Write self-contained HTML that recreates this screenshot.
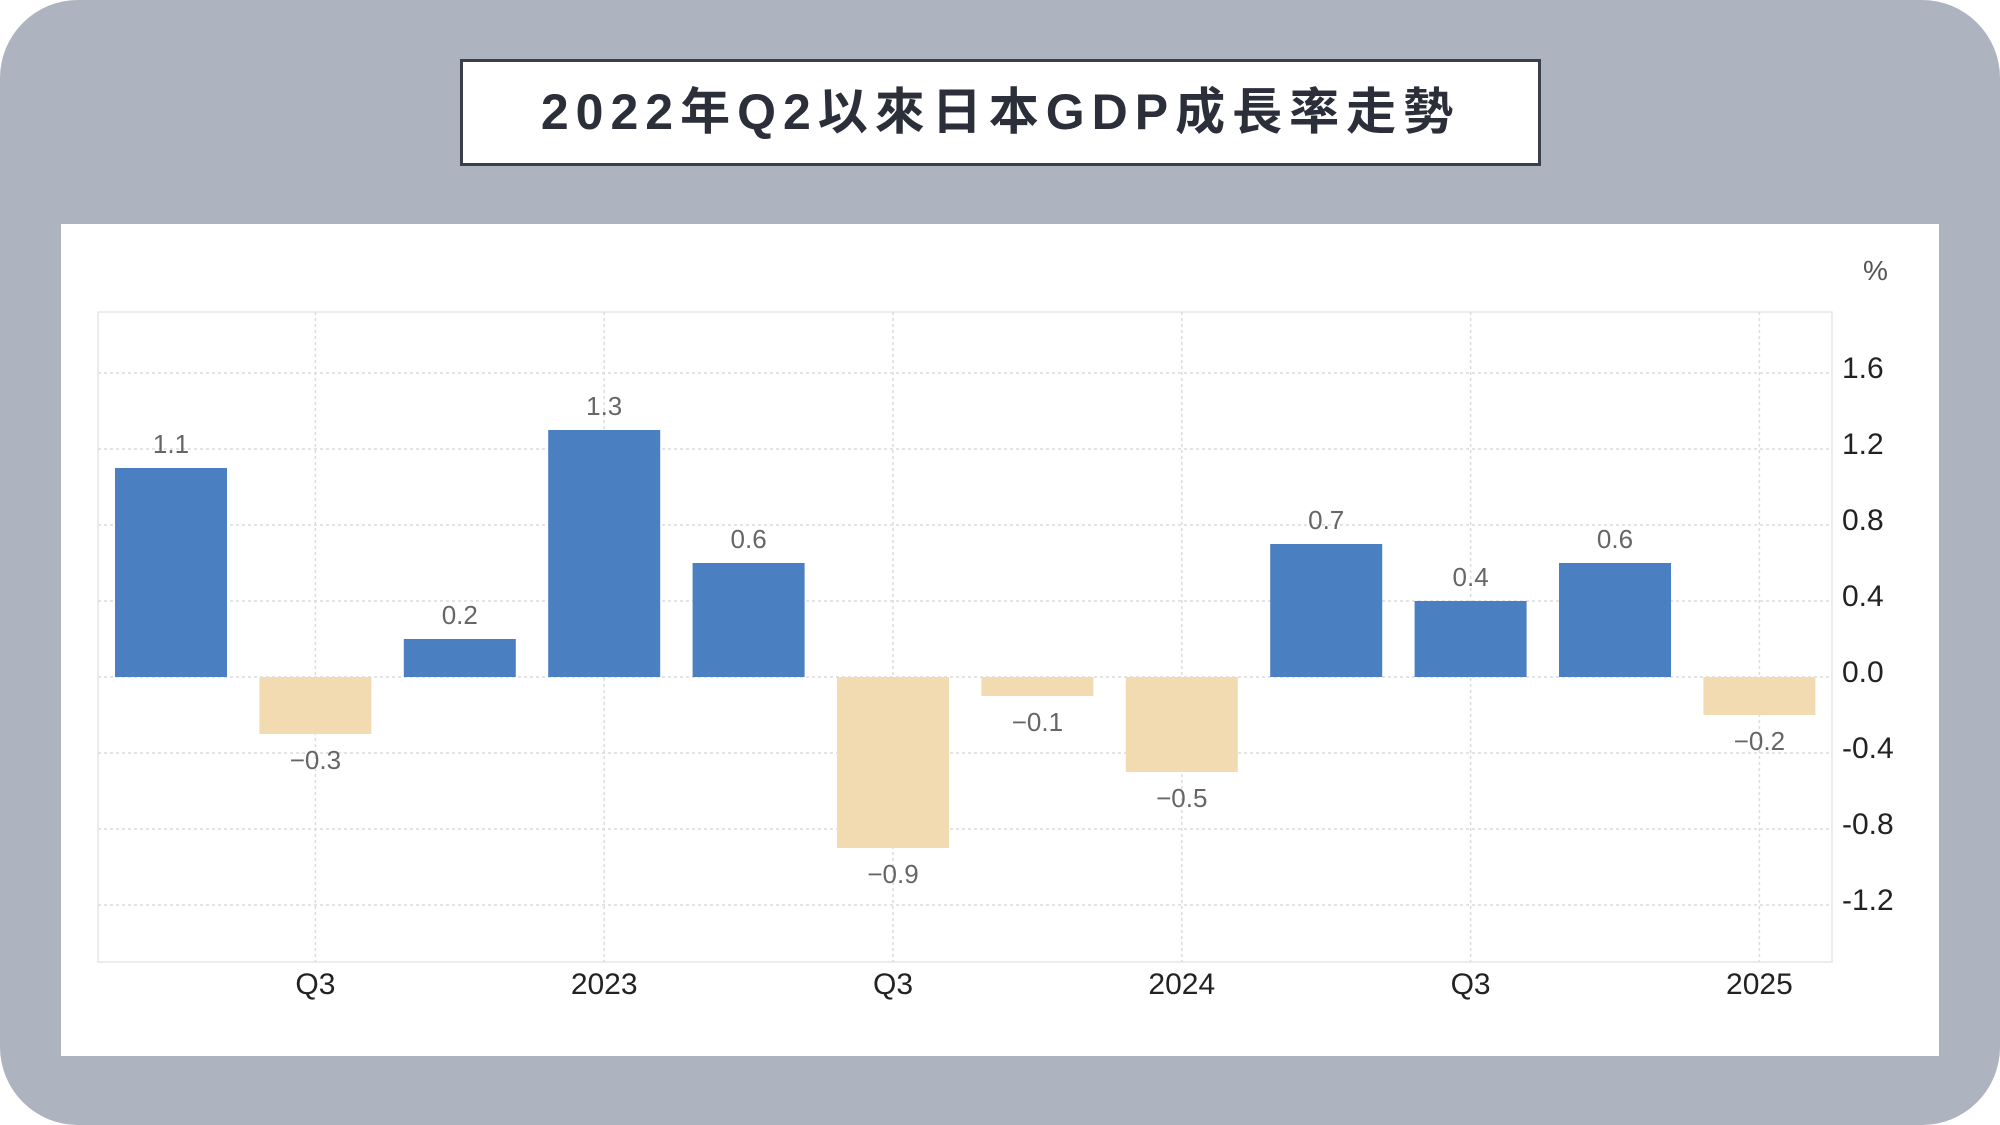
<!DOCTYPE html>
<html><head><meta charset="utf-8">
<style>
html,body{margin:0;padding:0;background:#fff;}
#bg{position:absolute;left:0;top:0;width:2000px;height:1125px;background:#adb3bf;border-radius:78px;}
#title{position:absolute;left:460px;top:59px;width:1075px;height:101px;border:3px solid #3a3f4b;background:#fff;box-sizing:content-box;text-align:center;line-height:101px;font-family:"Liberation Sans","Noto Sans CJK TC",sans-serif;font-size:50px;font-weight:bold;letter-spacing:7px;color:#2b2f3a;}
#panel{position:absolute;left:61px;top:224px;width:1878px;height:832px;background:#fff;}
svg{position:absolute;left:0;top:0;}
</style></head><body>
<div id="bg"></div>
<div id="title">2022年Q2以來日本GDP成長率走勢</div>
<div id="panel"></div>
<svg id="chart" width="2000" height="1125"></svg>
<script>
const values=[1.1,-0.3,0.2,1.3,0.6,-0.9,-0.1,-0.5,0.7,0.4,0.6,-0.2];
const valueLabels=["1.1","−0.3","0.2","1.3","0.6","−0.9","−0.1","−0.5","0.7","0.4","0.6","−0.2"];
const yTicks=[1.6,1.2,0.8,0.4,0.0,-0.4,-0.8,-1.2];
const yTickLabels=["1.6","1.2","0.8","0.4","0.0","-0.4","-0.8","-1.2"];
const xTickIdx=[1,3,5,7,9,11];
const xTickLabels=["Q3","2023","Q3","2024","Q3","2025"];

const svg=document.getElementById('chart');
const NS='http://www.w3.org/2000/svg';
const plotL=98,plotR=1832,plotT=312,plotB=962;
const y0=677,pxPer=76/0.4;
function yS(v){return y0-v*pxPer;}
function xS(i){return 171+i*144.4;}
const barW=112;
function mk(tag,attrs){const e=document.createElementNS(NS,tag);for(const k in attrs)e.setAttribute(k,attrs[k]);svg.appendChild(e);return e;}
let f=mk('rect',{x:plotL,y:plotT,width:plotR-plotL,height:plotB-plotT,fill:'none',stroke:'#e6e6e6','stroke-width':1.5});


yTicks.forEach((v,i)=>{
 let g=mk('line',{x1:plotL,x2:plotR,y1:yS(v),y2:yS(v),stroke:'#dcdcdc','stroke-dasharray':'3,3','stroke-width':1.5});
 
 
 let t=mk('text',{x:1842,y:yS(v)+5,'font-size':30,'font-family':'Liberation Sans, sans-serif',fill:'#222'});
 t.textContent=yTickLabels[i];
 
 
});
xTickIdx.forEach((idx,i)=>{
 let g=mk('line',{x1:xS(idx),x2:xS(idx),y1:plotT,y2:plotB,stroke:'#dcdcdc','stroke-dasharray':'3,3','stroke-width':1.5});
 
 
 let t=mk('text',{x:xS(idx),y:994,'font-size':30,'font-family':'Liberation Sans, sans-serif',fill:'#222','text-anchor':'middle'});
 t.textContent=xTickLabels[i];
 
 
});
values.forEach((v,i)=>{
 const top=v>=0?yS(v):y0, h=Math.abs(yS(v)-y0);
 let r=mk('rect',{x:xS(i)-barW/2,y:top,width:barW,height:h,fill:v>=0?'#4a7fc1':'#f2dbb0'});
 
 
 const ly=v>=0?yS(v)-15:yS(v)+35;
 let t=mk('text',{x:xS(i),y:ly,'font-size':26,'font-family':'Liberation Sans, sans-serif',fill:'#666','text-anchor':'middle'});
 t.textContent=valueLabels[i];
 
 
});
let p=mk('text',{x:1863,y:280,'font-size':28,'font-family':'Liberation Sans, sans-serif',fill:'#555'});
p.textContent='%';


</script>
</body></html>
